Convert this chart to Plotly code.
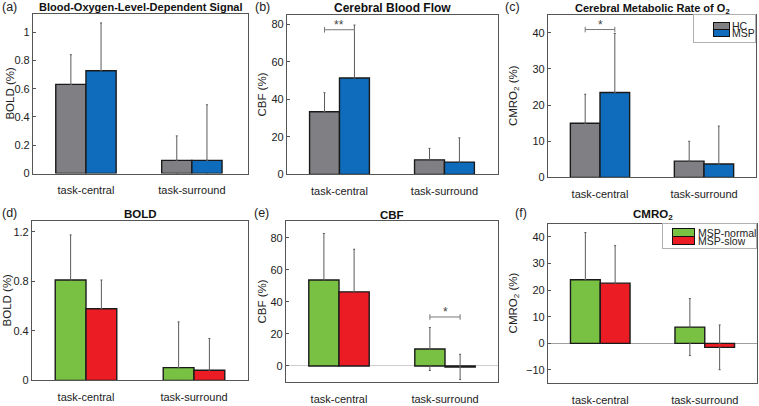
import plotly.graph_objects as go

W, H = 759, 406

categories = ["task-central", "task-surround"]

# (a)-(c): healthy controls vs MS patients
hc_bold = [0.63, 0.093]
hc_bold_err = [0.21, 0.173]
msp_bold = [0.727, 0.093]
msp_bold_err = [0.338, 0.393]

hc_cbf = [33.4, 7.8]
hc_cbf_err = [10.1, 6.1]
msp_cbf = [51.3, 6.6]
msp_cbf_err = [28.2, 12.9]

hc_cmro2 = [15.0, 4.5]
hc_cmro2_err = [8.0, 5.5]
msp_cmro2 = [23.5, 3.7]
msp_cmro2_err = [16.3, 10.5]

# (d)-(f): MSP with normal vs slow processing speed
normal_bold = [0.81, 0.103]
normal_bold_err = [0.364, 0.369]
slow_bold = [0.578, 0.082]
slow_bold_err = [0.232, 0.256]

normal_cbf = [53.7, 10.6]
normal_cbf_err = [29.0, 13.4]
slow_cbf = [46.3, -0.6]
slow_cbf_err = [26.6, 7.9]

normal_cmro2 = [23.9, 6.1]
normal_cmro2_err = [17.7, 10.7]
slow_cmro2 = [22.6, -1.5]
slow_cmro2_err = [14.1, 8.4]

# significance brackets: (panel, category index, height, label)
sig_marks = [("b", 0, 77, "**"), ("c", 0, 40.9, "*"), ("e", 1, 30.6, "*")]

GRAY, BLUE, GREEN, RED = "#808084", "#0f6cbd", "#79c143", "#ec1c24"
BW = 0.285
FONT = "Liberation Sans, Arial, sans-serif"


def px_x(p):
    return p / W


def px_y(p):
    return 1 - p / H


panels = [
    dict(key="a", box=(33, 14, 248, 177), xr=[0.5, 2.53], yr=[0, 1.13], dtick=0.2,
         title="Blood-Oxygen-Level-Dependent Signal", title_y=7, title_size=11,
         ylab="BOLD (%)", ylab_x=10, zerocolor="#bbb",
         series=[("HC", hc_bold, hc_bold_err, GRAY), ("MSP", msp_bold, msp_bold_err, BLUE)]),
    dict(key="b", box=(287, 15, 498, 178), xr=[0.5, 2.51], yr=[0, 85], dtick=20,
         title="Cerebral Blood Flow", title_y=8, title_size=12,
         ylab="CBF (%)", ylab_x=262, zerocolor="#bbb",
         series=[("HC", hc_cbf, hc_cbf_err, GRAY), ("MSP", msp_cbf, msp_cbf_err, BLUE)]),
    dict(key="c", box=(548, 15, 756, 181), xr=[0.5, 2.5], yr=[0, 45], dtick=10,
         title="Cerebral Metabolic Rate of O<sub>2</sub>", title_y=9, title_size=11,
         ylab="CMRO<sub>2</sub> (%)", ylab_x=514, zerocolor="#bbb",
         series=[("HC", hc_cmro2, hc_cmro2_err, GRAY), ("MSP", msp_cmro2, msp_cmro2_err, BLUE)],
         legend=dict(frame=(693, 15, 756, 44), patch_x=(713, 730), rows=(22.5, 30, 37.5), text_x=731)),
    dict(key="d", box=(32, 225, 248, 388), xr=[0.5, 2.5], yr=[0, 1.29], dtick=0.4,
         title="BOLD", title_y=218, title_size=11.5,
         ylab="BOLD (%)", ylab_x=7, zerocolor="#bbb",
         series=[("MSP-normal", normal_bold, normal_bold_err, GREEN),
                 ("MSP-slow", slow_bold, slow_bold_err, RED)]),
    dict(key="e", box=(286, 225, 498, 390), xr=[0.5, 2.5], yr=[-10.2, 90.8], dtick=20,
         title="CBF", title_y=219, title_size=11.5,
         ylab="CBF (%)", ylab_x=262, zerocolor="#cfcfcf",
         series=[("MSP-normal", normal_cbf, normal_cbf_err, GREEN),
                 ("MSP-slow", slow_cbf, slow_cbf_err, RED)]),
    dict(key="f", box=(548, 228, 757, 391), xr=[0.5, 2.5], yr=[-15, 45], dtick=10,
         title="CMRO<sub>2</sub>", title_y=219, title_size=11.5,
         ylab="CMRO<sub>2</sub> (%)", ylab_x=514, zerocolor="#a0a0a0",
         series=[("MSP-normal", normal_cmro2, normal_cmro2_err, GREEN),
                 ("MSP-slow", slow_cmro2, slow_cmro2_err, RED)],
         legend=dict(frame=(662, 228, 757, 254), patch_x=(672, 695), rows=(233, 241.5, 250), text_x=697)),
]

label_pos = {"a": (0, 7), "b": (253, 7), "c": (503, 7), "d": (0, 217), "e": (252, 217), "f": (513, 217)}

fig = go.Figure()
annotations = []

for i, p in enumerate(panels, start=1):
    sfx = "" if i == 1 else str(i)
    xa, ya = "x" + sfx, "y" + sfx
    x0, y0, x1, y1 = p["box"]
    xpos = [1, 2]

    for j, (name, vals, errs, color) in enumerate(p["series"]):
        off = -BW if j == 0 else 0
        fig.add_trace(go.Bar(
            x=xpos, y=vals, width=BW, offset=off, name=name,
            marker=dict(color=color, line=dict(color="#1a1a1a", width=1.4)),
            xaxis=xa, yaxis=ya, showlegend=False,
        ))
        xc = [x + off + BW / 2 for x in xpos]
        # part of the error bar outside the bar
        fig.add_trace(go.Scatter(
            x=xc, y=vals, mode="markers", marker=dict(size=1, color="rgba(0,0,0,0)"),
            error_y=dict(type="data", symmetric=False,
                         array=[e if v >= 0 else 0 for v, e in zip(vals, errs)],
                         arrayminus=[0 if v >= 0 else e for v, e in zip(vals, errs)],
                         color="#5a5a5a", thickness=1, width=1),
            xaxis=xa, yaxis=ya, showlegend=False, hoverinfo="skip",
        ))
        # part of the error bar that crosses zero on the other side
        cx, cup, cdn = [], [], []
        for x, v, e in zip(xc, vals, errs):
            if e > abs(v):
                cx.append(x)
                cup.append(0 if v >= 0 else e + v)
                cdn.append(e - v if v >= 0 else 0)
        if cx:
            fig.add_trace(go.Scatter(
                x=cx, y=[0] * len(cx), mode="markers", marker=dict(size=1, color="rgba(0,0,0,0)"),
                error_y=dict(type="data", symmetric=False, array=cup, arrayminus=cdn,
                             color="#5a5a5a", thickness=1, width=1),
                xaxis=xa, yaxis=ya, showlegend=False, hoverinfo="skip",
            ))

    for key, ci, h, stars in sig_marks:
        if key != p["key"]:
            continue
        c = xpos[ci]
        fig.add_trace(go.Scatter(
            x=[c - BW / 2, c + BW / 2], y=[h, h], mode="lines+markers",
            line=dict(color="#777", width=1),
            marker=dict(symbol="line-ns-open", size=4, line=dict(color="#777", width=1)),
            xaxis=xa, yaxis=ya, showlegend=False, hoverinfo="skip",
        ))
        annotations.append(dict(x=c, y=h, xref=xa, yref=ya, text=stars, showarrow=False,
                                xanchor="center", yanchor="bottom", yshift=-4,
                                font=dict(size=12, color="#444")))

    fig.layout["xaxis" + sfx] = dict(
        domain=[px_x(x0), px_x(x1)], anchor=ya, range=p["xr"],
        tickvals=xpos, ticktext=categories, ticks="", ticklabelstandoff=6,
        showgrid=False, zeroline=False,
        showline=True, mirror=True, linecolor="#555", linewidth=1.2,
        tickfont=dict(size=11, color="#222", family=FONT),
    )
    fig.layout["yaxis" + sfx] = dict(
        domain=[px_y(y1), px_y(y0)], anchor=xa, range=p["yr"], dtick=p["dtick"], tick0=0,
        ticks="inside", ticklen=3, tickcolor="#555", showgrid=False,
        zeroline=p["yr"][0] < 0, zerolinecolor=p["zerocolor"], zerolinewidth=1,
        showline=True, mirror=True, linecolor="#555", linewidth=1.2,
        tickfont=dict(size=11, color="#222", family=FONT),
    )

    annotations.append(dict(x=px_x((x0 + x1) / 2), y=px_y(p["title_y"]), xref="paper", yref="paper",
                            text="<b>" + p["title"] + "</b>", showarrow=False,
                            xanchor="center", yanchor="middle",
                            font=dict(size=p["title_size"], color="#111", family=FONT)))
    annotations.append(dict(x=px_x(p["ylab_x"]), y=px_y((y0 + y1) / 2), xref="paper", yref="paper",
                            text=p["ylab"], textangle=-90, showarrow=False,
                            xanchor="center", yanchor="middle",
                            font=dict(size=11.5, color="#222", family=FONT)))
    lx, ly = label_pos[p["key"]]
    annotations.append(dict(x=px_x(lx), y=px_y(ly), xref="paper", yref="paper",
                            text="(" + p["key"] + ")", showarrow=False,
                            xanchor="left", yanchor="middle",
                            font=dict(size=12.5, color="#222", family=FONT)))

    # legend drawn as a small framed key, like the original figure
    lg = p.get("legend")
    if lg:
        fx0, fy0, fx1, fy1 = lg["frame"]
        annotations.append(dict(x=px_x((fx0 + fx1) / 2), y=px_y((fy0 + fy1) / 2),
                                xref="paper", yref="paper", text=" ", showarrow=False,
                                xanchor="center", yanchor="middle",
                                width=fx1 - fx0 - 2, height=fy1 - fy0 - 2, borderpad=0,
                                bordercolor="#b0b0b0", borderwidth=1, font=dict(size=1)))
        px0, px1 = lg["patch_x"]
        r = lg["rows"]
        for k, (name, _, _, color) in enumerate(p["series"]):
            ry0, ry1 = r[k], r[k + 1]
            annotations.append(dict(x=px_x((px0 + px1) / 2), y=px_y((ry0 + ry1) / 2),
                                    xref="paper", yref="paper", text=" ", showarrow=False,
                                    xanchor="center", yanchor="middle",
                                    width=px1 - px0 - 2, height=ry1 - ry0 - 2, borderpad=0,
                                    bgcolor=color, bordercolor="#111", borderwidth=1,
                                    font=dict(size=1)))
            annotations.append(dict(x=px_x(lg["text_x"]), y=px_y((ry0 + ry1) / 2),
                                    xref="paper", yref="paper", text=name, showarrow=False,
                                    xanchor="left", yanchor="middle", height=8, borderpad=0,
                                    font=dict(size=10.5, color="#222", family=FONT)))

fig.update_layout(
    width=W, height=H, autosize=False,
    margin=dict(l=0, r=0, t=0, b=0),
    paper_bgcolor="white", plot_bgcolor="white",
    barmode="overlay",
    font=dict(family=FONT),
    annotations=annotations,
    showlegend=False,
)

fig.write_html("out.html", config={"displayModeBar": False},
               post_script="document.body.style.margin='0';document.body.style.padding='0';")
